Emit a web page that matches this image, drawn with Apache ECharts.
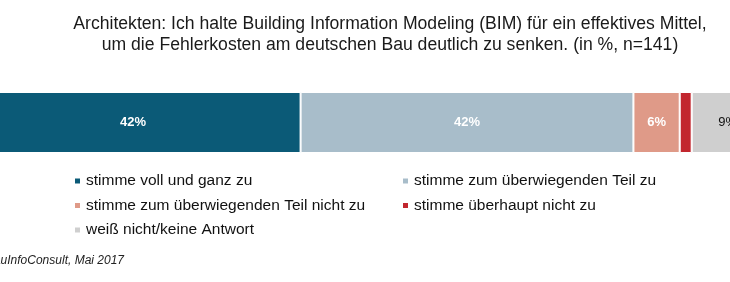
<!DOCTYPE html>
<html>
<head>
<meta charset="utf-8">
<script src="https://cdn.jsdelivr.net/npm/echarts@6/dist/echarts.min.js"></script>
<style>
html,body{margin:0;padding:0;background:#fff;}
#c{width:730px;height:282px;}
</style>
</head>
<body>
<div id="c"></div>
<script>
const titleLines = [
  'Architekten: Ich halte Building Information Modeling (BIM) für ein effektives Mittel,',
  'um die Fehlerkosten am deutschen Bau deutlich zu senken. (in %, n=141)'
];
const categories = ['Architekten'];
const seriesNames = [
  'stimme voll und ganz zu',
  'stimme zum überwiegenden Teil zu',
  'stimme zum überwiegenden Teil nicht zu',
  'stimme überhaupt nicht zu',
  'weiß nicht/keine Antwort'
];
const valVoll = [42];
const valUeberwiegend = [41.7];
const valUeberwiegendNicht = [5.8];
const valUeberhauptNicht = [1.5];
const valWeissNicht = [9];
const sourceText = 'BauInfoConsult, Mai 2017';

const colors = ['#0b5a77', '#a8bdca', '#df9a88', '#c2262e', '#cfcfcf'];
const values = [valVoll, valUeberwiegend, valUeberwiegendNicht, valUeberhauptNicht, valWeissNicht];
const labelColors = ['#ffffff', '#ffffff', '#ffffff', '#ffffff', '#111111'];
const labelShow = [true, true, true, false, true];

const chart = echarts.init(document.getElementById('c'), null, {renderer: 'canvas'});
const series = seriesNames.map((name, i) => ({
  name: name,
  type: 'bar',
  stack: 'total',
  data: values[i],
  barWidth: '100%',
  clip: false,
  itemStyle: {color: colors[i], borderColor: '#ffffff', borderWidth: 1},
  label: {
    show: labelShow[i],
    position: 'inside',
    formatter: p => Math.round(p.value) + '%',
    color: labelColors[i],
    fontFamily: 'Liberation Sans',
    fontWeight: i === 4 ? 'normal' : 'bold',
    fontSize: 13
  },
  emphasis: {disabled: true}
}));

const legendText = {fontFamily: 'Liberation Sans', fontSize: 15.5, color: '#111', lineHeight: 20};
chart.setOption({
  animation: false,
  legend: [
    {
      orient: 'vertical', left: 68, top: 166, itemWidth: 7, itemHeight: 7, itemGap: 4.5,
      icon: 'rect', data: [seriesNames[0], seriesNames[2], seriesNames[4]], textStyle: legendText,
      selectedMode: false
    },
    {
      orient: 'vertical', left: 396, top: 166, itemWidth: 7, itemHeight: 7, itemGap: 4.5,
      icon: 'rect', data: [seriesNames[1], seriesNames[3]], textStyle: legendText,
      selectedMode: false
    }
  ],
  grid: {left: 0, right: 0, top: 92, height: 61, containLabel: false},
  xAxis: {type: 'value', min: 4.34, max: 95.8, show: false},
  yAxis: {type: 'category', data: categories, show: false},
  series: series,
  graphic: [
    {
      type: 'text',
      x: 390,
      y: 14,
      style: {
        text: titleLines.join('\n'), align: 'center', verticalAlign: 'top',
        fontFamily: 'Liberation Sans', fontSize: 17.6, lineHeight: 21, fill: '#1a1a1a'
      }
    },
    {
      type: 'text',
      right: 730 - 124,
      top: 255,
      style: {text: sourceText, fontFamily: 'Liberation Sans', fontSize: 12, fontStyle: 'italic', fill: '#222'}
    }
  ]
});
</script>
</body>
</html>
